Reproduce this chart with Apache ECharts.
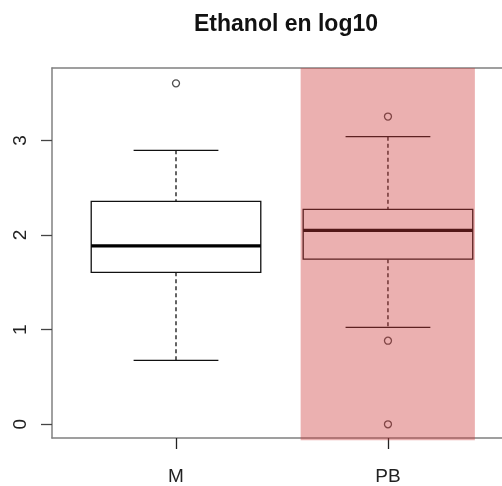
<!DOCTYPE html>
<html>
<head>
<meta charset="utf-8">
<script src="https://cdn.jsdelivr.net/npm/echarts@6/dist/echarts.min.js"></script>
<style>html,body{margin:0;padding:0;background:#fff}#c{width:502px;height:486px}</style>
</head>
<body>
<div id="c"></div>
<script>
const titleText = 'Ethanol en log10';
const categories = ['M', 'PB'];
const positions = [1, 2];
// [lower whisker, Q1, median, Q3, upper whisker]
const statsM = [0.676, 1.606, 1.885, 2.355, 2.895];
const statsPB = [1.023, 1.745, 2.05, 2.271, 3.039];
const outliersM = [3.603];
const outliersPB = [3.252, 0.883, 0.0];
const yTicks = [0, 1, 2, 3];
const highlightX = [1.588, 2.41];
const highlightY = [-0.168, 3.765];
const xRange = [0.415, 2.538];
const yRange = [-0.145, 3.765];

const boxData = [[positions[0]].concat(statsM), [positions[1]].concat(statsPB)];
const outlierData = outliersM.map(v => [positions[0], v]).concat(outliersPB.map(v => [positions[1], v]));

const chart = echarts.init(document.getElementById('c'), null, {renderer: 'canvas'});
const axisGray = '#808080';
const lineCol = '#111';
const font = 'Liberation Sans, Arial, sans-serif';

function renderBox(params, api) {
  const x = api.value(0);
  const lo = api.value(1), q1 = api.value(2), med = api.value(3), q3 = api.value(4), hi = api.value(5);
  const halfW = 0.4, capW = 0.2;
  const tl = api.coord([x - halfW, q3]);
  const br = api.coord([x + halfW, q1]);
  const mL = api.coord([x - halfW, med]);
  const mR = api.coord([x + halfW, med]);
  const cTop = api.coord([x, hi]);
  const cQ3 = api.coord([x, q3]);
  const cQ1 = api.coord([x, q1]);
  const cLo = api.coord([x, lo]);
  const capL = api.coord([x - capW, hi]);
  const capR = api.coord([x + capW, hi]);
  const capL2 = api.coord([x - capW, lo]);
  const capR2 = api.coord([x + capW, lo]);
  const solid = {stroke: lineCol, lineWidth: 1.3, fill: null};
  const dashed = {stroke: lineCol, lineWidth: 1.3, lineDash: [4, 3], fill: null};
  return {
    type: 'group',
    children: [
      {type: 'line', shape: {x1: cTop[0], y1: cTop[1], x2: cQ3[0], y2: cQ3[1]}, style: dashed},
      {type: 'line', shape: {x1: cQ1[0], y1: cQ1[1], x2: cLo[0], y2: cLo[1]}, style: dashed},
      {type: 'line', shape: {x1: capL[0], y1: capL[1], x2: capR[0], y2: capR[1]}, style: solid},
      {type: 'line', shape: {x1: capL2[0], y1: capL2[1], x2: capR2[0], y2: capR2[1]}, style: solid},
      {type: 'rect', shape: {x: tl[0], y: tl[1], width: br[0] - tl[0], height: br[1] - tl[1]}, style: {stroke: lineCol, lineWidth: 1.3, fill: '#fff'}},
      {type: 'line', shape: {x1: mL[0], y1: mL[1], x2: mR[0], y2: mR[1]}, style: {stroke: '#000', lineWidth: 3.2}}
    ]
  };
}

function renderHighlight(params, api) {
  const a = api.coord([api.value(0), highlightY[1]]);
  const b = api.coord([api.value(1), highlightY[0]]);
  return {
    type: 'rect',
    shape: {x: a[0], y: a[1], width: b[0] - a[0], height: b[1] - a[1]},
    style: {fill: 'rgba(205,57,57,0.4)'}
  };
}

chart.setOption({
  animation: false,
  backgroundColor: '#fff',
  title: {
    text: titleText,
    left: 281, top: 8,
    textAlign: 'center',
    textStyle: {fontFamily: font, fontWeight: 'bold', fontSize: 23, color: '#111'}
  },
  grid: {left: 52, top: 68, bottom: 46, right: 0},
  xAxis: [{
    type: 'value', min: xRange[0], max: xRange[1], position: 'bottom',
    splitLine: {show: false},
    axisLine: {show: true, onZero: false, lineStyle: {color: axisGray, width: 1.5}},
    axisTick: {show: true, inside: false, customValues: positions, length: 11, lineStyle: {color: '#222', width: 1.3}},
    axisLabel: {
      customValues: positions, margin: 29,
      formatter: v => categories[positions.indexOf(Math.round(v))] || '',
      fontFamily: font, fontSize: 19, color: '#222'
    }
  }, {
    type: 'value', min: xRange[0], max: xRange[1], position: 'top',
    splitLine: {show: false},
    axisLine: {show: true, onZero: false, lineStyle: {color: axisGray, width: 1.5}},
    axisTick: {show: false}, axisLabel: {show: false}
  }],
  yAxis: {
    type: 'value', min: yRange[0], max: yRange[1],
    splitLine: {show: false},
    axisLine: {show: true, onZero: false, lineStyle: {color: axisGray, width: 1.5}},
    axisTick: {show: true, inside: false, customValues: yTicks, length: 11, lineStyle: {color: '#444', width: 1.3}},
    axisLabel: {
      customValues: yTicks, margin: 22, rotate: 90,
      fontFamily: font, fontSize: 19, color: '#222'
    }
  },
  series: [
    {type: 'custom', z: 2, data: boxData, renderItem: renderBox, encode: {x: 0, y: [1, 2, 3, 4, 5]}},
    {type: 'scatter', z: 3, data: outlierData, symbol: 'circle', symbolSize: 7,
     itemStyle: {color: 'rgba(0,0,0,0)', borderColor: '#222', borderWidth: 1.3}},
    {type: 'custom', z: 10, data: [highlightX], renderItem: renderHighlight, clip: false, encode: {x: [0, 1]}}
  ]
});
</script>
</body>
</html>
